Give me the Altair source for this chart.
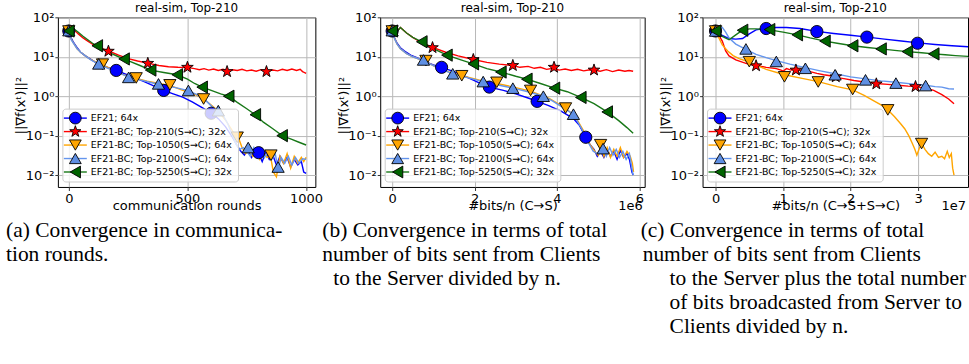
import altair as alt
import pandas as pd

# ---------------- series definitions ----------------
SERIES = ["EF21; 64x", "EF21-BC; Top-210(S→C); 32x", "EF21-BC; Top-1050(S→C); 64x",
          "EF21-BC; Top-2100(S→C); 64x", "EF21-BC; Top-5250(S→C); 32x"]
LINE_COLORS = ["#0000ff", "#ff0000", "#ffa500", "#6495ed", "#187818"]
MARKER_COLORS = ["#0000ff", "#ff0000", "#ffa500", "#5f8fe3", "#006400"]
STAR = ("M0,-1L0.235,-0.324L0.951,-0.309L0.38,0.124L0.588,0.809L0,0.4"
        "L-0.588,0.809L-0.38,0.124L-0.951,-0.309L-0.235,-0.324Z")
SHAPES = ["circle", STAR, "triangle-down", "triangle-up", "triangle-left"]

TITLE = "real-sim, Top-210"
Y_TITLE = "||∇f(xᵗ)||²"
YTICK_VALUES = [0.01, 0.1, 1, 10, 100]
YTICK_LABELS = ["10⁻²", "10⁻¹", "10⁰", "10¹", "10²"]

P1_XTICKS = [0, 500, 1000]
P1_XLABELS = ["0", "500", "1000"]
P1_XTITLE = "communication rounds"
P2_XTICKS = [0, 2, 4, 6]
P2_XLABELS = ["0", "2", "4", "6"]
P2_XTITLE = "#bits/n (C→S)"
P2_OFFSET = "1e6"
P3_XTICKS = [0, 1, 2, 3]
P3_XLABELS = ["0", "1", "2", "3"]
P3_XTITLE = "#bits/n (C→S+S→C)"
P3_OFFSET = "1e7"

CAPTION_A = ["(a) Convergence in communica-", "tion rounds."]
CAPTION_B = ["(b) Convergence in terms of total", "number of bits sent from Clients",
             "to the Server divided by n."]
CAPTION_C = ["(c) Convergence in terms of total", "number of bits sent from Clients",
             "to the Server plus the total number", "of bits broadcasted from Server to",
             "Clients divided by n."]

# ---------------- panel 1 : communication rounds ----------------
P1_EF21_X = [0, 5, 10, 20, 35, 50, 70, 90, 110, 140, 170, 200, 240, 280, 320, 360, 400, 440, 480, 520,
             560, 600, 630, 660, 690, 710, 725, 740, 755, 770, 785, 800, 815, 830, 845, 860, 875, 890, 905, 920,
             935, 950, 965, 980, 990, 1000]
P1_EF21_Y = [45, 40, 30, 23, 17, 13, 10.5, 8.8, 7.4, 6.0, 5.2, 4.5, 3.6, 2.9, 2.3, 1.8, 1.4, 1.15, 0.95, 0.72,
             0.52, 0.38, 0.27, 0.17, 0.09, 0.055, 0.04, 0.032, 0.045, 0.028, 0.04, 0.035, 0.022, 0.038, 0.025,
             0.032, 0.018, 0.03, 0.02, 0.028, 0.016, 0.025, 0.018, 0.022, 0.012, 0.011]
P1_EF21_MX = [0, 200, 400, 600, 800]
P1_EF21_MY = [45, 4.5, 1.4, 0.37, 0.037]

P1_T210_X = [0, 10, 20, 40, 60, 80, 100, 130, 170, 210, 250, 290, 337, 380, 420, 460, 503, 530, 550, 570,
             590, 610, 630, 650, 670, 690, 710, 730, 750, 770, 790, 810, 836, 860, 880, 900, 920, 940, 960, 975,
             985, 992, 1000]
P1_T210_Y = [45, 36, 50, 38, 30, 25, 21, 17, 13.8, 11, 9, 7.8, 6.8, 6.0, 5.6, 5.4, 5.3, 5.0, 4.7, 5.0,
             4.6, 4.9, 4.5, 4.8, 4.4, 4.7, 4.5, 4.8, 4.4, 4.6, 4.3, 4.7, 4.4, 4.6, 4.4, 4.8, 4.5, 4.9, 4.5, 4.8,
             4.2, 4.0, 3.8]
P1_T210_MX = [0, 167, 333, 500, 667, 833]
P1_T210_MY = [45, 13.8, 6.8, 5.4, 4.2, 4.2]

P1_T1050_X = [0, 5, 10, 20, 35, 50, 70, 90, 110, 142, 180, 220, 260, 289, 330, 380, 429, 480, 520, 569,
              600, 630, 660, 690, 716, 730, 745, 760, 775, 790, 805, 820, 835, 850, 862, 875, 890, 905, 920, 935,
              950, 965, 980, 990, 1000]
P1_T1050_Y = [45, 40, 28, 22, 16, 13, 10.5, 8.7, 7.5, 6.3, 4.8, 3.7, 3.1, 2.8, 2.4, 2.1, 1.85, 1.4, 1.2, 0.85,
              0.6, 0.42, 0.25, 0.13, 0.085, 0.05, 0.035, 0.045, 0.03, 0.042, 0.025, 0.038, 0.028, 0.03, 0.012,
              0.009, 0.03, 0.02, 0.035, 0.015, 0.03, 0.02, 0.028, 0.022, 0.028]
P1_T1050_MX = [0, 142, 284, 426, 568, 710, 852]
P1_T1050_MY = [45, 6.5, 2.9, 1.94, 0.85, 0.091, 0.032]

P1_T2100_X = [0, 5, 10, 20, 35, 50, 70, 90, 110, 130, 160, 200, 250, 300, 350, 400, 450, 500, 540, 580,
              610, 630, 650, 670, 690, 705, 720, 735, 750, 765, 780, 795, 810, 825, 840, 855, 870, 882, 895, 910,
              925, 940, 955, 970, 985, 1000]
P1_T2100_Y = [46, 38, 27, 22, 16, 13, 10.5, 8.6, 7.3, 6.4, 5.2, 4.2, 3.1, 2.6, 2.2, 1.9, 1.65, 1.4, 1.1, 0.75,
              0.5, 0.42, 0.33, 0.2, 0.1, 0.06, 0.045, 0.05, 0.04, 0.03, 0.05, 0.032, 0.045, 0.028, 0.04,
              0.025, 0.035, 0.014, 0.028, 0.02, 0.03, 0.018, 0.028, 0.02, 0.026, 0.025]
P1_T2100_MX = [0, 126, 252, 378, 504, 630, 756, 882]
P1_T2100_MY = [46, 6.6, 3.0, 2.05, 1.4, 0.43, 0.05, 0.016]

P1_T5250_X = [0, 10, 20, 40, 60, 80, 100, 120, 150, 180, 210, 233, 260, 300, 345, 400, 457, 500, 530, 562,
              600, 640, 674, 710, 750, 786, 820, 860, 899, 940, 970, 1000]
P1_T5250_Y = [45, 36, 52, 42, 33, 27, 22, 19, 15, 12, 10, 8.8, 7.5, 6, 4.6, 4.0, 3.5, 2.7, 2.1, 1.7,
              1.4, 1.15, 1.0, 0.7, 0.48, 0.34, 0.22, 0.15, 0.1, 0.08, 0.068, 0.058]
P1_T5250_MX = [0, 120, 233, 345, 457, 562, 674, 786, 899]
P1_T5250_MY = [45, 19, 8.8, 4.6, 3.5, 1.7, 1.0, 0.34, 0.1]

# ---------------- panel 2 : bits C->S (x 1e6) ----------------
P2_EF21_X = [0, 0.03, 0.06, 0.12, 0.2, 0.3, 0.45, 0.6, 0.8, 1.0, 1.2, 1.5, 1.8, 2.1, 2.36, 2.7, 3.0, 3.3, 3.52,
             3.8, 4.1, 4.4, 4.55, 4.7, 4.8, 4.9, 4.98, 5.06, 5.14, 5.22, 5.3, 5.38, 5.46, 5.54, 5.62, 5.7, 5.76,
             5.82, 5.85]
P2_EF21_Y = [45, 40, 30, 22, 17, 14, 11, 9.5, 7.5, 6.2, 5.4, 4.2, 3.1, 2.2, 1.7, 1.4, 1.15, 0.9, 0.74,
             0.58, 0.42, 0.27, 0.18, 0.09, 0.06, 0.045, 0.03, 0.04, 0.028, 0.045, 0.03, 0.04, 0.025, 0.042,
             0.028, 0.035, 0.025, 0.012, 0.01]
P2_EF21_MX = [0, 1.2, 2.36, 3.52, 4.7]
P2_EF21_MY = [45, 5.4, 1.7, 0.74, 0.091]

P2_T210_X = [0, 0.05, 0.1, 0.2, 0.35, 0.5, 0.7, 1.0, 1.3, 1.6, 1.97, 2.3, 2.6, 2.93, 3.1, 3.3, 3.45, 3.6,
             3.75, 3.93, 4.05, 4.2, 4.35, 4.5, 4.65, 4.8, 4.9, 5.05, 5.2, 5.35, 5.5, 5.65, 5.75, 5.85]
P2_T210_Y = [45, 36, 42, 55, 40, 31, 23, 17, 13, 10.5, 8.5, 7.2, 6.5, 6.0, 5.4, 5.7, 5.1, 5.4,
             4.8, 5.2, 4.6, 4.9, 4.5, 4.8, 4.4, 4.7, 4.6, 4.3, 4.7, 4.2, 4.6, 4.3, 4.5, 4.3]
P2_T210_MX = [0, 0.98, 1.97, 2.93, 3.93, 4.9]
P2_T210_MY = [45, 17, 8.5, 6.0, 5.4, 4.6]

P2_T1050_X = [0, 0.03, 0.06, 0.12, 0.2, 0.35, 0.5, 0.82, 1.1, 1.4, 1.69, 2.1, 2.54, 2.95, 3.36, 3.8, 4.21,
              4.45, 4.65, 4.8, 4.92, 5.0, 5.06, 5.14, 5.22, 5.3, 5.38, 5.46, 5.54, 5.62, 5.7, 5.78, 5.83, 5.86]
P2_T1050_Y = [45, 40, 29, 21, 16, 12, 10, 7.5, 5.2, 4.0, 3.3, 2.6, 2.1, 1.7, 1.35, 0.9, 0.5,
              0.3, 0.13, 0.06, 0.04, 0.032, 0.055, 0.03, 0.05, 0.028, 0.045, 0.03, 0.05, 0.028, 0.04, 0.03,
              0.02, 0.012]
P2_T1050_MX = [0, 0.82, 1.69, 2.54, 3.36, 4.21, 5.06]
P2_T1050_MY = [45, 8, 3.3, 2.25, 1.4, 0.5, 0.059]

P2_T2100_X = [0, 0.03, 0.06, 0.12, 0.2, 0.35, 0.5, 0.76, 1.0, 1.2, 1.47, 1.8, 2.21, 2.6, 2.93, 3.3, 3.67,
              3.9, 4.1, 4.4, 4.6, 4.75, 4.88, 4.98, 5.06, 5.12, 5.2, 5.28, 5.36, 5.44, 5.52, 5.6, 5.68, 5.76,
              5.82, 5.85]
P2_T2100_Y = [46, 38, 28, 21, 16, 12, 10, 8.0, 6.0, 4.8, 3.7, 3.0, 2.35, 1.9, 1.6, 1.3, 1.0,
              0.75, 0.55, 0.35, 0.15, 0.07, 0.04, 0.035, 0.045, 0.05, 0.03, 0.05, 0.032, 0.045, 0.028, 0.04,
              0.025, 0.035, 0.015, 0.01]
P2_T2100_MX = [0, 0.76, 1.47, 2.21, 2.93, 3.67, 4.4, 5.12]
P2_T2100_MY = [46, 8.3, 3.7, 2.35, 1.6, 1.0, 0.35, 0.047]

P2_T5250_X = [0, 0.05, 0.1, 0.2, 0.35, 0.5, 0.72, 1.0, 1.33, 1.65, 1.97, 2.3, 2.64, 3.0, 3.27, 3.6, 3.94,
              4.25, 4.58, 4.9, 5.22, 5.5, 5.7, 5.85]
P2_T5250_Y = [45, 36, 42, 55, 40, 31, 24, 16, 11, 8.5, 6.6, 5.0, 4.1, 3.2, 2.7, 2.1, 1.6,
              1.3, 0.93, 0.65, 0.4, 0.24, 0.16, 0.115]
P2_T5250_MX = [0, 0.72, 1.33, 1.97, 2.64, 3.27, 3.94, 4.58, 5.22]
P2_T5250_MY = [45, 24, 11, 6.6, 4.1, 2.7, 1.6, 0.93, 0.4]

# ---------------- panel 3 : bits C->S + S->C (x 1e7) ----------------
P3_EF21_X = [0, 0.05, 0.1, 0.2, 0.3, 0.4, 0.5, 0.6, 0.75, 0.9, 1.05, 1.25, 1.5, 1.75, 2.0, 2.25, 2.5, 2.75,
             3.0, 3.25, 3.5, 3.74]
P3_EF21_Y = [45, 40, 35, 29, 28, 29, 38, 48, 53, 55, 55, 52, 44, 39, 35, 31.5, 28, 25, 22.5, 20.5, 19, 18]
P3_EF21_MX = [0, 0.75, 1.5, 2.24, 2.99]
P3_EF21_MY = [45, 52, 43.5, 31.5, 22]

P3_T210_X = [0, 0.05, 0.1, 0.15, 0.2, 0.3, 0.45, 0.6, 0.75, 0.9, 0.97, 1.0, 1.05, 1.12, 1.19, 1.25, 1.32,
             1.4, 1.5, 1.6, 1.7, 1.78, 1.9, 2.05, 2.2, 2.38, 2.55, 2.7, 2.85, 2.96, 3.1, 3.23, 3.35, 3.45, 3.53]
P3_T210_Y = [45, 35, 25, 14, 10.5, 8.3, 6.8, 6.0, 5.4, 5.0, 4.6, 4.3, 5.0, 4.6, 4.8, 4.5, 4.7,
             4.2, 3.8, 3.5, 3.3, 3.0, 2.8, 2.5, 2.3, 2.1, 2.0, 1.9, 1.8, 1.75, 1.6, 1.4, 1.1, 0.85, 0.64]
P3_T210_MX = [0, 0.6, 1.19, 1.78, 2.38, 2.96]
P3_T210_MY = [45, 5.9, 4.6, 3.1, 2.05, 1.75]

P3_T1050_X = [0, 0.05, 0.1, 0.18, 0.26, 0.35, 0.5, 0.75, 1.02, 1.3, 1.52, 1.8, 2.03, 2.2, 2.35, 2.45, 2.55,
              2.65, 2.74, 2.8, 2.86, 2.91, 2.95, 2.98, 3.02, 3.06, 3.1, 3.15, 3.2, 3.25, 3.3, 3.35, 3.39, 3.43,
              3.46, 3.49, 3.51, 3.53]
P3_T1050_Y = [45, 30, 20, 14, 10.7, 9.0, 7.3, 4.8, 3.5, 2.8, 2.35, 1.75, 1.45, 1.05, 0.75, 0.6, 0.45,
              0.3, 0.2, 0.15, 0.1, 0.065, 0.045, 0.032, 0.05, 0.06, 0.045, 0.035, 0.03, 0.038, 0.028, 0.03,
              0.026, 0.04, 0.028, 0.035, 0.015, 0.01]
P3_T1050_MX = [0, 0.5, 1.02, 1.52, 2.03, 2.55, 3.05]
P3_T1050_MY = [45, 7.5, 3.1, 2.3, 1.48, 0.45, 0.063]

P3_T2100_X = [0, 0.05, 0.1, 0.15, 0.2, 0.3, 0.45, 0.6, 0.75, 0.9, 1.1, 1.33, 1.55, 1.77, 2.0, 2.22, 2.45,
              2.67, 2.9, 3.11, 3.25, 3.35, 3.45, 3.53]
P3_T2100_Y = [45, 52, 56, 42, 30, 21, 15.5, 11.5, 9.5, 8.0, 6.5, 5.3, 4.4, 3.7, 3.1, 2.75, 2.45,
              2.25, 2.05, 1.9, 1.75, 1.7, 1.55, 1.52]
P3_T2100_MX = [0, 0.45, 0.9, 1.33, 1.77, 2.22, 2.67, 3.11]
P3_T2100_MY = [45, 15.8, 7.6, 5.1, 3.5, 2.6, 2.15, 1.86]

P3_T5250_X = [0, 0.05, 0.1, 0.2, 0.3, 0.4, 0.5, 0.6, 0.8, 1.0, 1.21, 1.4, 1.62, 1.8, 2.03, 2.25, 2.45,
              2.65, 2.84, 3.05, 3.23, 3.4, 3.55, 3.74]
P3_T5250_Y = [45, 40, 33, 27, 36, 47, 51, 51, 48, 42, 36, 30, 25, 22, 19, 17.2, 15.8,
              14.5, 13.5, 12.6, 11.8, 11.2, 10.7, 10.2]
P3_T5250_MX = [0, 0.4, 0.8, 1.21, 1.62, 2.03, 2.45, 2.84, 3.23]
P3_T5250_MY = [45, 47, 49, 36, 25, 19, 15.8, 13.5, 11.8]

# ---------------- layout constants ----------------
H = 170
FONT = "DejaVu Sans"
SERIF = "Liberation Serif"
CAP_SIZE = 21.5
CAP_BASE = 220
CAP_STEP = 24.2
# legend box (pixels, relative to the plot area)
LEG_BOX = (5, 181, 92, 165)
LEG_ROWS = (101, 155)
LEG_LINE_X = (6, 29)
LEG_MARK_X = 17.5
LEG_TEXT_X = 33


def label_expr(values, labels):
    expr = "''"
    for v, lab in zip(values, labels):
        tol = abs(v) * 1e-6 + 1e-9
        expr = f"abs(datum.value - ({v})) <= {tol} ? '{lab}' : ({expr})"
    return expr


def to_frame(names, pairs):
    rows = []
    for name, (xs, ys) in zip(names, pairs):
        assert len(xs) == len(ys), name
        for a, b in zip(xs, ys):
            rows.append({"s": name, "x": a, "y": b})
    return pd.DataFrame(rows)


def panel(lines, marks, xdomain, xticks, xlabels, xtitle, width, offset_text, captions, cap_dx):
    df_l = to_frame(SERIES, lines)
    xscale = alt.Scale(domain=xdomain, nice=False, zero=False)
    yscale = alt.Scale(type="log", domain=[0.005, 100], nice=False)
    color_scale = alt.Scale(domain=SERIES, range=LINE_COLORS)
    common_axis = dict(grid=True, gridColor="#b8b8b8", gridWidth=1, domain=False,
                       tickColor="black", tickWidth=0.8, labelFont=FONT, labelFontSize=13,
                       labelColor="black", titleFont=FONT, titleFontSize=13,
                       titleFontWeight="normal", titleColor="black", labelFlush=False,
                       labelOverlap=False)
    xaxis = alt.Axis(values=xticks, labelExpr=label_expr(xticks, xlabels), title=xtitle,
                     tickSize=3.5, labelPadding=2.5, titleBaseline="alphabetic", titleY=22.5,
                     **common_axis)
    yaxis = alt.Axis(values=YTICK_VALUES, labelExpr=label_expr(YTICK_VALUES, YTICK_LABELS),
                     title=Y_TITLE, tickSize=3, labelPadding=1, titleX=-33, titleY=88,
                     titleBaseline="alphabetic", **common_axis)

    layers = [alt.Chart(df_l).mark_line(strokeWidth=1.4, clip=True).encode(
        x=alt.X("x:Q", scale=xscale, axis=xaxis),
        y=alt.Y("y:Q", scale=yscale, axis=yaxis),
        color=alt.Color("s:N", scale=color_scale, legend=None),
    )]
    # markers, one layer per series (drawn in series order)
    for (mx, my), shp, col in zip(marks, SHAPES, MARKER_COLORS):
        dfm = pd.DataFrame({"x": mx, "y": my})
        layers.append(alt.Chart(dfm).mark_point(
            shape=shp, filled=True, fill=col, size=150, stroke="black", strokeWidth=0.9,
            opacity=1, clip=True).encode(x="x:Q", y=alt.Y("y:Q", scale=yscale, axis=None)))

    # ---- legend (box + line sample + marker + label per series) ----
    df_leg = pd.DataFrame({"s": SERIES, "i": list(range(len(SERIES)))})
    row_y = alt.Y("i:Q", scale=alt.Scale(domain=[0, len(SERIES) - 1], range=list(LEG_ROWS)), axis=None)
    layers.append(alt.Chart(pd.DataFrame({"b": [0]})).mark_rect(
        fill="white", fillOpacity=0.8, stroke="#cccccc", strokeWidth=1, cornerRadius=3).encode(
        x=alt.value(LEG_BOX[0]), x2=alt.value(LEG_BOX[1]),
        y=alt.value(LEG_BOX[2]), y2=alt.value(LEG_BOX[3])))
    layers.append(alt.Chart(df_leg).mark_rule(strokeWidth=1.4).encode(
        x=alt.value(LEG_LINE_X[0]), x2=alt.value(LEG_LINE_X[1]), y=row_y,
        color=alt.Color("s:N", scale=color_scale, legend=None)))
    layers.append(alt.Chart(df_leg).mark_point(filled=True, size=140, stroke="black",
                                               strokeWidth=0.9, opacity=1).encode(
        x=alt.value(LEG_MARK_X), y=row_y,
        fill=alt.Fill("s:N", scale=alt.Scale(domain=SERIES, range=MARKER_COLORS), legend=None),
        shape=alt.Shape("s:N", scale=alt.Scale(domain=SERIES, range=SHAPES), legend=None)))
    layers.append(alt.Chart(df_leg).mark_text(align="left", baseline="middle", font=FONT,
                                              fontSize=9.5, color="black").encode(
        x=alt.value(LEG_TEXT_X), y=row_y, text="s:N"))

    if offset_text:
        layers.append(alt.Chart(pd.DataFrame({"t": [offset_text]})).mark_text(
            align="right", baseline="alphabetic", font=FONT, fontSize=13, color="black").encode(
            text="t:N", x=alt.value(width - 2), y=alt.value(H + 23)))
    for i, (line, dx) in enumerate(zip(captions, cap_dx)):
        layers.append(alt.Chart(pd.DataFrame({"t": [line]})).mark_text(
            align="left", baseline="alphabetic", font=SERIF, fontSize=CAP_SIZE, color="black").encode(
            text="t:N", x=alt.value(dx), y=alt.value(CAP_BASE + i * CAP_STEP)))
    return alt.layer(*layers).resolve_scale(y="independent").properties(
        width=width, height=H,
        title=alt.TitleParams(TITLE, font=FONT, fontSize=12, fontWeight="normal", color="black",
                              offset=-4, anchor="middle"))


p1 = panel([(P1_EF21_X, P1_EF21_Y), (P1_T210_X, P1_T210_Y), (P1_T1050_X, P1_T1050_Y),
            (P1_T2100_X, P1_T2100_Y), (P1_T5250_X, P1_T5250_Y)],
           [(P1_EF21_MX, P1_EF21_MY), (P1_T210_MX, P1_T210_MY), (P1_T1050_MX, P1_T1050_MY),
            (P1_T2100_MX, P1_T2100_MY), (P1_T5250_MX, P1_T5250_MY)],
           [-46, 1039], P1_XTICKS, P1_XLABELS, P1_XTITLE, 258, None, CAPTION_A, [-52, -52])

p2 = panel([(P2_EF21_X, P2_EF21_Y), (P2_T210_X, P2_T210_Y), (P2_T1050_X, P2_T1050_Y),
            (P2_T2100_X, P2_T2100_Y), (P2_T5250_X, P2_T5250_Y)],
           [(P2_EF21_MX, P2_EF21_MY), (P2_T210_MX, P2_T210_MY), (P2_T1050_MX, P2_T1050_MY),
            (P2_T2100_MX, P2_T2100_MY), (P2_T5250_MX, P2_T5250_MY)],
           [-0.29, 6.13], P2_XTICKS, P2_XLABELS, P2_XTITLE, 265, P2_OFFSET, CAPTION_B, [-58, -58, -47])

p3 = panel([(P3_EF21_X, P3_EF21_Y), (P3_T210_X, P3_T210_Y), (P3_T1050_X, P3_T1050_Y),
            (P3_T2100_X, P3_T2100_Y), (P3_T5250_X, P3_T5250_Y)],
           [(P3_EF21_MX, P3_EF21_MY), (P3_T210_MX, P3_T210_MY), (P3_T1050_MX, P3_T1050_MY),
            (P3_T2100_MX, P3_T2100_MY), (P3_T5250_MX, P3_T5250_MY)],
           [-0.192, 3.737], P3_XTICKS, P3_XLABELS, P3_XTITLE, 266, P3_OFFSET, CAPTION_C,
           [-62, -60, -33, -33, -33])

RES = dict(color="independent", fill="independent", shape="independent")
right = alt.hconcat(p2, p3, spacing=58, bounds="flush").resolve_scale(**RES)
chart = alt.hconcat(p1, right, spacing=65, bounds="flush").resolve_scale(**RES)
chart = chart.properties(
    padding={"left": 5, "top": 1, "right": 0, "bottom": 4}, background="white"
).configure(font=FONT).configure_view(stroke="black", strokeWidth=1)

chart.save("out.html", embed_options={"renderer": "svg", "actions": False})
